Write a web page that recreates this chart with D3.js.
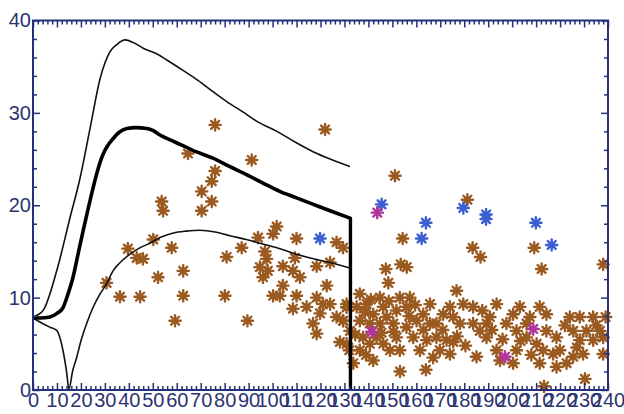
<!DOCTYPE html>
<html><head><meta charset="utf-8">
<script src="https://cdn.jsdelivr.net/npm/d3@7"></script>
<style>body{margin:0;background:#fff}svg{display:block}</style>
</head><body>
<svg id="c" width="624" height="414"></svg>
<script>
// ---- data ----
const upperX = [0,4.2,9.9,15.4,19.6,23.8,28,32.1,35,38.4,42,46,51.6,56,62.6,69,75.1,81,87.6,94,101.8,109,116.9,124,132.3];
const upperY = [7.9,8.6,12.9,18.6,22.9,28.3,33.7,36.6,37.4,37.9,37.6,37.0,36.4,35.7,34.6,33.5,32.3,31.2,30.1,29.0,28.0,26.9,25.8,25.0,24.2];
const thickX = [0,3,7.1,10,12.5,14.5,16.7,18.8,20.9,23,25,27,29.2,31.3,33.4,36,39.2,43,47.5,50,53,57,61.4,68,75.1,82,89.3,96,103,110,117,124,132.3];
const thickY = [7.8,7.8,7.9,8.3,8.9,10.3,12.2,14.7,17.2,19.6,21.8,23.8,25.5,26.5,27.2,27.9,28.3,28.4,28.3,28.1,27.6,27.1,26.6,25.8,25.1,24.2,23.3,22.4,21.5,20.8,20.1,19.4,18.6];
const dropX = [132.5,132.5];
const dropY = [18.6,0];
const lowerX = [0,4,7.1,9.9,12.5,14,15,16.5,18.2,20,22.4,25,28,30.7,33.4,36,40.5,44,48.8,53,58.6,64,69.7,76,82.2,89,96,103,110,117,124,132.3];
const lowerY = [7.8,7.2,6.8,6.45,4.3,2.0,0.1,2.0,3.5,5.3,7.2,8.9,10.4,11.5,12.9,13.7,14.7,15.3,15.9,16.5,17.0,17.2,17.3,17.1,16.7,16.3,15.8,15.3,14.7,14.2,13.8,13.2];

const brownPts = [
 [30.7,11.6],[36.3,10.1],[39.6,15.3],[43.3,14.3],[45.9,14.2],[44.7,10.1],[50.2,16.3],[52.2,12.2],[53.7,20.4],[54.3,19.4],
 [57.9,15.4],[59.3,7.5],[62.7,12.9],[62.7,10.2],[64.7,25.6],[76,28.7],[91.3,24.9],[76,23.7],[74.6,22.6],[70.4,21.5],
 [74.6,20.4],[70.4,19.4],[80.8,14.4],[80.1,10.2],[87.1,15.4],[89.5,7.5],[93.9,16.5],[101.7,17.7],[100.2,16.9],[110,16.4],
 [126.7,16],[129.4,15.4],[121.9,28.2],[96.8,15],[97.5,14.2],[94.7,13.3],[98,12.9],[96,12.2],[104.3,13.4],[108.5,12.9],
 [111.4,12.2],[109.3,14.3],[118.4,13.4],[124,13.8],[104.3,11.3],[100.2,10.2],[103,10.2],[110,10.2],[108.5,8.8],[114.2,9],
 [118.4,10],[121,9.3],[122.6,11.3],[124,9.3],[119.8,8.3],[116.9,7.2],[118.4,6.1],[126.7,7.9],[129.4,7.5],[130.9,9.3],
 [128.1,5.2],[132,4.3],
 [151.1,23.2],[154.3,16.4],[181.3,20.6],[183.5,15.4],[186.8,14.4],[209.2,15.4],[212.3,13.1],[238,13.6],[156,13.3],[153.5,13.6],
 [147.3,13.1],[148.3,11.6],
 [130.9,8.95],[129.5,7.5],[132.3,6.4],[130.9,5.0],[136.4,10.4],[135.1,9.0],[139.2,9.3],[144.8,10.0],[146.2,9.0],[142.0,8.2],
 [136.4,7.5],[140.6,7.2],[144.8,7.2],[147.6,7.9],[137.8,5.7],[143.4,5.7],[146.2,5.0],[136.4,4.3],[142.0,3.2],[153.1,10.0],
 [157.3,10.0],[151.7,8.6],[155.9,9.0],[150.4,7.2],[155.9,6.8],[160.1,7.5],[151.7,5.7],[158.7,5.7],[153.1,4.3],[149.0,4.3],
 [162.9,8.2],[165.7,9.3],[171.2,8.2],[175.4,7.9],[179.6,9.3],[164.3,5.4],[168.4,5.7],[172.6,5.4],[175.4,5.2],[169.8,4.3],
 [174.0,3.9],[168.4,7.2],[178.2,7.2],[183.7,7.2],[186.5,6.4],[193.5,9.3],[189.3,5.7],[193.5,4.3],[185.1,3.6],[197.6,7.2],
 [190.7,7.9],[200.4,8.2],[203.2,9.0],[201.8,6.4],[206.0,5.7],[211.5,9.0],[214.3,8.2],[210.2,5.0],[212.9,4.3],[217.1,3.9],
 [200.4,2.9],[206.0,7.2],[224.1,7.9],[228.2,7.9],[233.8,7.9],[225.5,6.4],[231.0,6.4],[236.6,6.4],[228.2,5.4],[233.8,5.4],
 [238.0,5.7],[219.9,4.3],[225.5,3.6],[222.7,2.9],[238.0,3.9],[218.5,2.5],[176.8,10.75],[194.9,3.2],[201.8,4.3],[140.6,5.0],
 [161.5,4.3],[165.7,7.2],[174.0,9.0],[183.7,9.0],[189.3,7.2],[207.4,7.9],[214.3,6.4],[218.5,5.7],[229.6,3.9],[211.5,2.9],
 [133.7,2.9],[153.2,2.0],[164.0,2.2],[230.4,1.2],[213.3,0.4],
 [134.5,6.0],[138.5,8.4],[141,9.8],[145.5,6.2],[139,3.8],[148.5,9.6],[150.5,6.3],[157,8.0],[159.5,9.2],[163,6.5],
 [167,3.5],[171,6.5],[177,5.8],[180.5,4.8],[187.5,8.6],[191.5,6.5],[196,5.5],[203.5,5.3],[208,3.8],[222,7.0],
 [227,4.6],[235,7.0],[239,7.9]
];
const bluePts = [[119.8,16.4],[145.5,20.1],[164,18.1],[162.2,16.4],[179.6,19.7],[189.1,19.0],[189.1,18.5],[209.9,18.1],[216.5,15.7]];
const magentaPts = [[143.7,19.2],[141.4,6.3],[197,3.6],[208.8,6.6]];

const xTicks = d3.range(0, 241, 10);
const yTicks = [0,10,20,30,40];

// ---- drawing ----
const svg = d3.select("#c");
const x = d3.scaleLinear([0,240],[33,608]);
const y = d3.scaleLinear([0,40],[390,20.5]);
const navy = "#27317a";
const labelCol = "#2b3470";

function star(r){
  let p="";
  for(let i=0;i<8;i++){const a=i*Math.PI/4;p+=`M0,0L${(r*Math.cos(a)).toFixed(2)},${(r*Math.sin(a)).toFixed(2)}`;}
  return p;
}
function drawPts(data,col){
  const g = svg.append("g").selectAll("g").data(data).join("g")
    .attr("transform",d=>`translate(${x(d[0])},${y(d[1])})`);
  g.append("path").attr("d",star(5.6)).attr("stroke",col).attr("stroke-width",2.4).attr("stroke-linecap","round").attr("fill","none");
  g.append("circle").attr("r",3).attr("fill",col);
}
drawPts(brownPts,"#9a5a20");
drawPts(bluePts,"#3b5fcf");
drawPts(magentaPts,"#b2359a");

const smooth = d3.line().x(d=>x(d[0])).y(d=>y(d[1])).curve(d3.curveMonotoneX);
const straight = d3.line().x(d=>x(d[0])).y(d=>y(d[1]));
const zip = (a,b)=>a.map((v,i)=>[v,b[i]]);
svg.append("path").attr("d",smooth(zip(upperX,upperY))).attr("fill","none").attr("stroke","#111").attr("stroke-width",1.6);
svg.append("path").attr("d",smooth(zip(lowerX,lowerY))).attr("fill","none").attr("stroke","#111").attr("stroke-width",1.6);
svg.append("path").attr("d",smooth(zip(thickX,thickY))).attr("fill","none").attr("stroke","#000").attr("stroke-width",3.6).attr("stroke-linejoin","round");
svg.append("path").attr("d",straight([[thickX[thickX.length-1],thickY[thickY.length-1]]].concat(zip(dropX,dropY)))).attr("fill","none").attr("stroke","#000").attr("stroke-width",3.4).attr("stroke-linejoin","round");

// frame
svg.append("rect").attr("x",33).attr("y",20.5).attr("width",575).attr("height",369.5)
  .attr("fill","none").attr("stroke",navy).attr("stroke-width",2);

const minorX = d3.range(0,241,2).filter(v=>v%10!==0);
const minorY = d3.range(0,41,2).filter(v=>v%10!==0);
function styleAxis(g){g.select(".domain").remove();g.selectAll("line").attr("stroke",navy).attr("stroke-width",1.5);}

svg.append("g").attr("transform","translate(0,390)")
  .call(d3.axisBottom(x).tickValues(xTicks).tickSizeInner(-7).tickSizeOuter(0).tickPadding(3).tickFormat(d3.format("d")))
  .call(styleAxis)
  .call(g=>g.selectAll("text").attr("fill",labelCol).attr("font-family","Liberation Sans, Arial, sans-serif").attr("font-size",20));
svg.append("g").attr("transform","translate(0,390)")
  .call(d3.axisBottom(x).tickValues(minorX).tickSizeInner(-4).tickSizeOuter(0).tickFormat("")).call(styleAxis);
svg.append("g").attr("transform","translate(0,20.5)")
  .call(d3.axisTop(x).tickValues(xTicks).tickSizeInner(-7).tickSizeOuter(0).tickFormat("")).call(styleAxis);
svg.append("g").attr("transform","translate(0,20.5)")
  .call(d3.axisTop(x).tickValues(minorX).tickSizeInner(-4).tickSizeOuter(0).tickFormat("")).call(styleAxis);

svg.append("g").attr("transform","translate(33,0)")
  .call(d3.axisLeft(y).tickValues(yTicks).tickSizeInner(-7).tickSizeOuter(0).tickPadding(2).tickFormat(d3.format("d")))
  .call(styleAxis)
  .call(g=>g.selectAll("text").attr("fill",labelCol).attr("font-family","Liberation Sans, Arial, sans-serif").attr("font-size",20));
svg.append("g").attr("transform","translate(33,0)")
  .call(d3.axisLeft(y).tickValues(minorY).tickSizeInner(-4).tickSizeOuter(0).tickFormat("")).call(styleAxis);
svg.append("g").attr("transform","translate(608,0)")
  .call(d3.axisRight(y).tickValues(yTicks).tickSizeInner(-7).tickSizeOuter(0).tickFormat("")).call(styleAxis);
svg.append("g").attr("transform","translate(608,0)")
  .call(d3.axisRight(y).tickValues(minorY).tickSizeInner(-4).tickSizeOuter(0).tickFormat("")).call(styleAxis);
</script>
</body></html>
